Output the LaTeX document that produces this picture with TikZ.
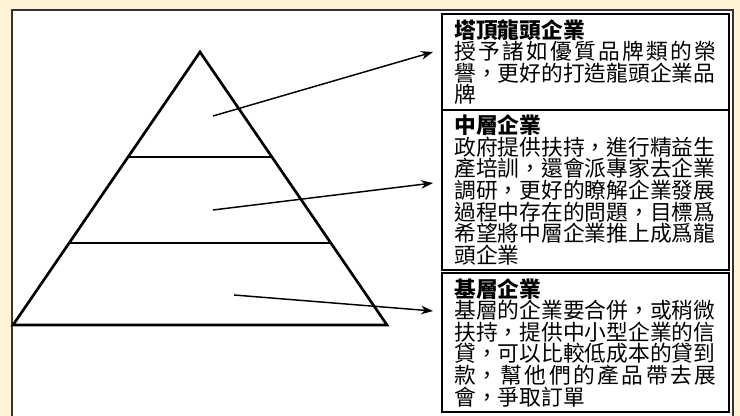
\documentclass[tikz,border=0pt]{standalone}
\usepackage{fontspec}
\usetikzlibrary{arrows.meta}
\newfontfamily\cjk{Noto Sans CJK TC}
\XeTeXlinebreaklocale "zh"
\XeTeXlinebreakskip=0pt plus 1pt
\definecolor{cream}{RGB}{255,245,214}
\definecolor{framegray}{RGB}{51,51,51}
\tikzset{
  tierbox/.style={draw=black, line width=1.1pt, fill=white, text width=196.5pt,
    minimum width=215.25pt, inner xsep=9.4pt, inner ysep=2pt, align=justify,
    font=\cjk\fontsize{16.3pt}{16.2pt}\selectfont},
  pointer/.style={line width=1.1pt, -{Stealth[length=9pt,width=6.5pt]}},
  tier/.style={line width=2pt}
}

\begin{document}
\begin{tikzpicture}[x=0.75pt,y=-0.75pt]
      \useasboundingbox (0,0) rectangle (740,416);
      \fill[cream] (0,0) rectangle (740,416);
      % white sheet, open at the bottom
      \filldraw[fill=white,draw=framegray,line width=1.5pt] (12,425) -- (12,10) -- (733,10) -- (733,425);
      % pyramid
      \draw[tier] (200,52) -- (387,325) -- (13,325) -- cycle;
      \draw[tier] (128,157) -- (272,157);
      \draw[tier] (69,243) -- (331,243);
      % the three levels
      \node[tierbox, minimum height=72pt] (top) at (585.5,62)
        {{\bfseries 塔頂龍頭企業}\\ 授予諸如優質品牌類的榮\linebreak 譽，更好的打造龍頭企業品\\ 牌};
      \node[tierbox, minimum height=120pt] (middle) at (585.5,190)
        {{\bfseries 中層企業}\\ 政府提供扶持，進行精益生\\ 產培訓，還會派專家去企業\\ 調研，更好的瞭解企業發展\\ 過程中存在的問題，目標爲\\ 希望將中層企業推上成爲龍\\ 頭企業};
      \node[tierbox, minimum height=104.25pt] (base) at (585.5,342.5)
        {{\bfseries 基層企業}\\ 基層的企業要合併，或稍微\\ 扶持，提供中小型企業的信\\ 貸，可以比較低成本的貸到\\ 款，幫他們的產品帶去展\linebreak 會，爭取訂單};
      % pointers
      \coordinate (topsrc) at (213,116);
      \coordinate (midsrc) at (213,210);
      \coordinate (basesrc) at (234,295);
      \coordinate (toptip) at (433,52);
      \coordinate (midtip) at (433,183);
      \coordinate (basetip) at (433,311);
      \draw[pointer] (topsrc) -- (toptip);
      \draw[pointer] (midsrc) -- (midtip);
      \draw[pointer] (basesrc) -- (basetip);
    \end{tikzpicture}
\end{document}
